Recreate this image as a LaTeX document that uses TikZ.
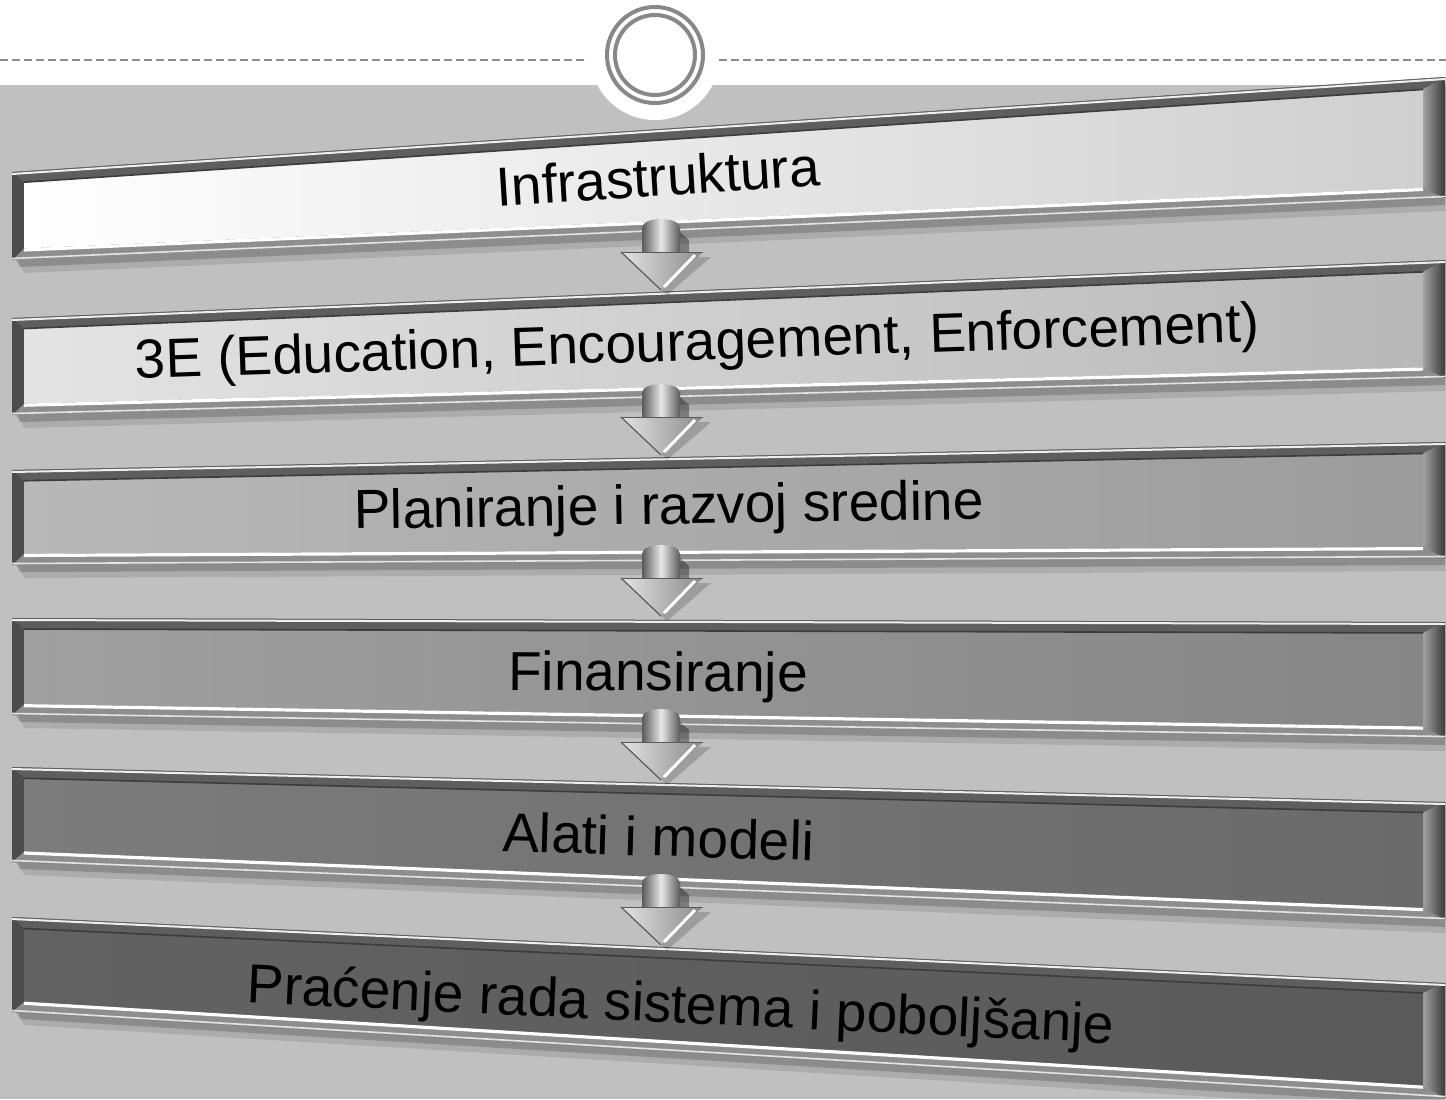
\documentclass[tikz,border=0pt]{standalone}
\usepackage{fontspec}
\setmainfont{Liberation Sans}
\usetikzlibrary{calc}
\definecolor{bg}{HTML}{C0C0C0}
\definecolor{ringgray}{HTML}{888888}
\definecolor{dashgray}{HTML}{8C8C8C}
\definecolor{frame}{HTML}{707070}
\definecolor{ftop}{HTML}{5E5E5E}
\definecolor{fbot}{HTML}{8E8E8E}
\definecolor{fleft}{HTML}{4C4C4C}
\definecolor{frl}{HTML}{A0A0A0}
\definecolor{frd}{HTML}{3C3C3C}
\definecolor{pa1}{HTML}{FFFFFF}\definecolor{pb1}{HTML}{CFCFCF}
\definecolor{pa2}{HTML}{E4E4E4}\definecolor{pb2}{HTML}{B8B8B8}
\definecolor{pa3}{HTML}{B8B8B8}\definecolor{pb3}{HTML}{9C9C9C}
\definecolor{pa4}{HTML}{A0A0A0}\definecolor{pb4}{HTML}{868686}
\definecolor{pa5}{HTML}{7C7C7C}\definecolor{pb5}{HTML}{6A6A6A}
\definecolor{pa6}{HTML}{626262}\definecolor{pb6}{HTML}{5A5A5A}
\definecolor{ashd}{HTML}{5A5A5A}
\definecolor{alit}{HTML}{E8E8E8}
\definecolor{hla}{HTML}{E4E4E4}
\definecolor{hlb}{HTML}{8A8A8A}
\newcommand\bevelpanel[6]{%
 \pgfmathsetmacro\itl{#1+(#3-#1)*0.008374+11}%
 \pgfmathsetmacro\itr{#1+(#3-#1)*0.984648+11}%
 \pgfmathsetmacro\ibl{#2+(#4-#2)*0.008374-11}%
 \pgfmathsetmacro\ibr{#2+(#4-#2)*0.984648-11}%
 \fill[black,opacity=.10] (18,#2) -- (1445,#4) -- (1445,#4+13) -- (24,#2+13) -- cycle;
 \fill[black,opacity=.18] (16,#2) -- (1445,#4) -- (1445,#4+7) -- (20,#2+7) -- cycle;
 \fill[frame] (12,#1) -- (1445,#3) -- (1445,#4) -- (12,#2) -- cycle;
 \fill[ftop] (12,#1) -- (1445,#3) -- (1423,\itr) -- (24,\itl) -- cycle;
 \fill[fbot] (12,#2) -- (1445,#4) -- (1423,\ibr) -- (24,\ibl) -- cycle;
 \fill[fleft] (12,#1) -- (24,\itl) -- (24,\ibl) -- (12,#2) -- cycle;
 \shade[left color=frl,right color=frd] (1445,#3) -- (1423,\itr) -- (1423,\ibr) -- (1445,#4) -- cycle;
 \shade[left color=#5,right color=#6] (24,\itl) -- (1423,\itr) -- (1423,\ibr) -- (24,\ibl) -- cycle;
 \draw[white,line width=1pt,opacity=.9] (12,#1+2) -- (1445,#3+2);
 \draw[frd,line width=0.8pt] (24,\itl) -- (1423,\itr);
 \draw[white,line width=1.6pt] (24,\ibl+1.5) -- (1423,\ibr+1.5);
 \draw[hla,line width=0.8pt] (12,#2-1.5) -- (1445,#4-1.5);
}
\newcommand\fatarrow[1]{%
 \begin{scope}[shift={(#1)}]
  \fill[black,opacity=.18] (-34,-33) -- (50,-33) -- (6,5) -- cycle;
  \fill[black,opacity=.35] (19,-58) -- (28,-50) -- (28,-38) -- (19,-38) -- cycle;
  \shade[left color=ashd,right color=ashd,middle color=alit]
    (-19,-36) -- (-19,-62) .. controls (-19,-74) and (19,-74) .. (19,-62) -- (19,-36) -- cycle;
  \shade[left color=hla,right color=hlb] (-40,-38) -- (42,-38) -- (0,0) -- cycle;
  \draw[ashd,line width=0.6pt] (-40,-38) -- (0,0);
  \draw[white,line width=1.5pt] (34,-35) -- (3,-3);
  \draw[ashd,line width=0.5pt] (-40,-38) -- (42,-38);
 \end{scope}}
\begin{document}
\begin{tikzpicture}[x=0.5pt,y=-0.5pt,
  lbl/.style={font=\fontsize{27.5}{30}\selectfont, text=black, inner sep=0pt, anchor=base},
  ring/.style={draw=ringgray, line width=2pt},
  dashline/.style={draw=dashgray, line width=1pt, dash pattern=on 4pt off 2pt}]
\useasboundingbox (0,0) rectangle (1446,1099);
\fill[bg] (0,0) rectangle (1446,1099);
\fill[white] (0,0) rectangle (1446,85);
\fill[white] (655,55) circle[radius=65];
\draw[dashline] (0,60) -- (588,60);
\draw[dashline] (719,60) -- (1446,60);
\draw[ring] (655,55) circle[radius=48];
\draw[ring] (655,55) circle[radius=40];
% panels
\bevelpanel{172}{260}{77}{198}{pa1}{pb1}
\bevelpanel{318}{415}{260}{378}{pa2}{pb2}
\bevelpanel{470}{565}{442}{558}{pa3}{pb3}
\bevelpanel{618}{715}{622}{738}{pa4}{pb4}
\bevelpanel{767}{862}{802}{920}{pa5}{pb5}
\bevelpanel{917}{1012}{983}{1098}{pa6}{pb6}
% labels
\node[lbl,rotate=3.6] (b1) at (659,196) {Infrastruktura};
\node[lbl,rotate=1.9] (b2) at (698,360) {3E (Education, Encouragement, Enforcement)};
\node[lbl,rotate=0.9] (b3) at (669,524) {Planiranje i razvoj sredine};
\node[lbl,rotate=-0.3] (b4) at (658,691) {Finansiranje};
\node[lbl,rotate=-1.7] (b5) at (658,856) {Alati i modeli};
\node[lbl,rotate=-2.7] (b6) at (680,1023) {Praćenje rada sistema i poboljšanje};
% arrows
\coordinate (t1) at (661,290);
\coordinate (t2) at (661,455);
\coordinate (t3) at (661,616);
\coordinate (t4) at (661,780);
\coordinate (t5) at (661,945);
\fatarrow{t1}
\fatarrow{t2}
\fatarrow{t3}
\fatarrow{t4}
\fatarrow{t5}
\end{tikzpicture}
\end{document}
